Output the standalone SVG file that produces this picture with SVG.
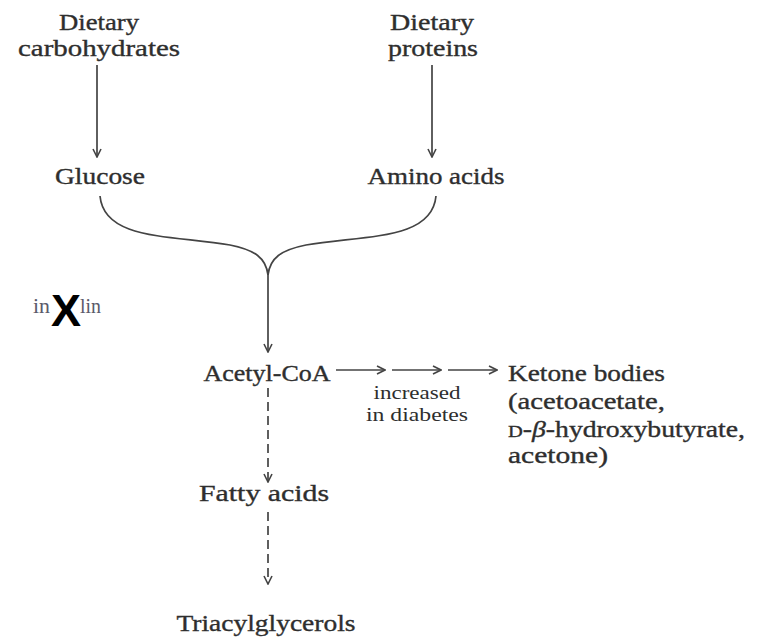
<svg xmlns="http://www.w3.org/2000/svg" width="763" height="639" viewBox="0 0 763 639">
<style>
.t{font-family:"Liberation Serif","DejaVu Serif",serif;fill:#2e2e2e;font-size:23px;text-anchor:middle;stroke:#2e2e2e;stroke-width:0.35}
.s{font-size:19px}
.st{text-anchor:start}
.l{stroke:#444;stroke-width:1.7;fill:none}
.d{stroke-dasharray:9,5}
</style>
<defs>
<marker id="a" viewBox="0 0 10 10" refX="9" refY="5" markerWidth="10" markerHeight="10" markerUnits="userSpaceOnUse" orient="auto">
<path d="M1,1 L9,5 L1,9" fill="none" stroke="#444" stroke-width="1.6"/>
</marker>
</defs>
<rect width="763" height="639" fill="#fff"/>
<g id="n-carb"><text class="t" x="99" y="30" textLength="80" lengthAdjust="spacingAndGlyphs">Dietary</text><text class="t" x="99" y="56" textLength="162" lengthAdjust="spacingAndGlyphs">carbohydrates</text></g>
<g id="n-prot"><text class="t" x="432" y="30" textLength="84" lengthAdjust="spacingAndGlyphs">Dietary</text><text class="t" x="433" y="56" textLength="90" lengthAdjust="spacingAndGlyphs">proteins</text></g>
<g id="n-glucose"><text class="t" x="100" y="184" textLength="90" lengthAdjust="spacingAndGlyphs">Glucose</text></g>
<g id="n-amino"><text class="t" x="436" y="184" textLength="137" lengthAdjust="spacingAndGlyphs">Amino acids</text></g>
<g id="n-insulin"><text class="t st" x="33" y="313" textLength="17" lengthAdjust="spacingAndGlyphs" style="font-size:21px;fill:#5a5a6a;stroke:none">in</text><text class="t st" x="80" y="313" textLength="21" lengthAdjust="spacingAndGlyphs" style="font-size:21px;fill:#5a5a6a;stroke:none">lin</text><text x="66" y="326" style="font-family:'Liberation Sans',sans-serif;font-weight:bold;font-size:45px;text-anchor:middle;fill:#000">X</text></g>
<g id="n-acetyl"><text class="t" x="267" y="381" textLength="127" lengthAdjust="spacingAndGlyphs">Acetyl-CoA</text></g>
<g id="n-ketone"><text class="t st" x="508" y="381" textLength="157" lengthAdjust="spacingAndGlyphs">Ketone bodies</text><text class="t st" x="508" y="409" textLength="157" lengthAdjust="spacingAndGlyphs">(acetoacetate,</text><text class="t st" x="508" y="437" textLength="237" lengthAdjust="spacingAndGlyphs"><tspan font-size="17">D</tspan>-<tspan font-style="italic">β</tspan>-hydroxybutyrate,</text><text class="t st" x="508" y="463" textLength="100" lengthAdjust="spacingAndGlyphs">acetone)</text></g>
<g id="n-fatty"><text class="t" x="264" y="501" textLength="130" lengthAdjust="spacingAndGlyphs">Fatty acids</text></g>
<g id="n-tag"><text class="t" x="266" y="631" textLength="179" lengthAdjust="spacingAndGlyphs">Triacylglycerols</text></g>
<g id="e-label"><text class="t s" x="417" y="399" textLength="87" lengthAdjust="spacingAndGlyphs" style="stroke:none">increased</text><text class="t s" x="417" y="421" textLength="102" lengthAdjust="spacingAndGlyphs" style="stroke:none">in diabetes</text></g>
<g id="connectors">
<line class="l" x1="97" y1="65" x2="97" y2="157" marker-end="url(#a)"/>
<line class="l" x1="432" y1="65" x2="432" y2="157" marker-end="url(#a)"/>
<path class="l" d="M100,196 C104,240 170,235 230,245 C255,250 266,258 268,275"/>
<path class="l" d="M436,196 C432,240 366,235 306,245 C281,250 270,258 268,275"/>
<line class="l" x1="268" y1="270" x2="268" y2="352" marker-end="url(#a)"/>
<line class="l" x1="336" y1="370" x2="385" y2="370" marker-end="url(#a)"/>
<line class="l" x1="392" y1="370" x2="441" y2="370" marker-end="url(#a)"/>
<line class="l" x1="448" y1="370" x2="497" y2="370" marker-end="url(#a)"/>
<line class="l d" x1="268" y1="388" x2="268" y2="482" marker-end="url(#a)"/>
<line class="l d" x1="268" y1="512" x2="268" y2="584" marker-end="url(#a)"/>
</g>
</svg>
